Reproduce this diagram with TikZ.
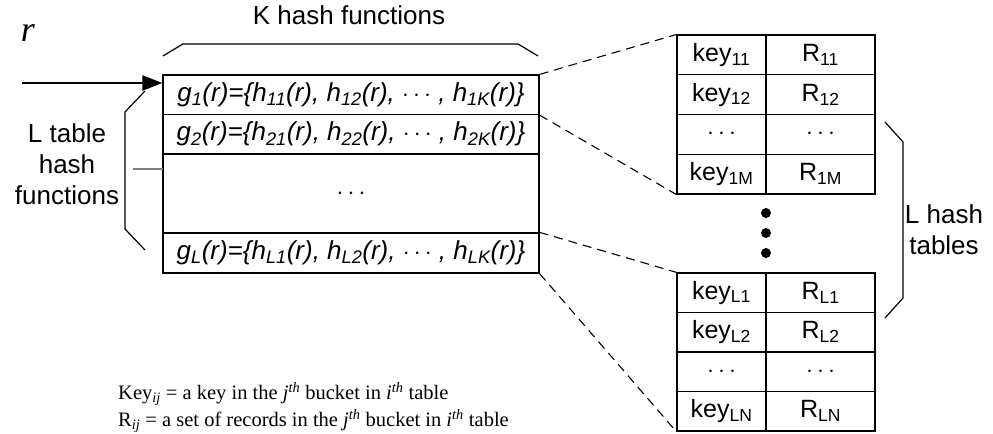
\documentclass[tikz,border=0pt]{standalone}
\usepackage{fontspec}
\setmainfont{Liberation Serif}
\setsansfont{Liberation Sans}
\usetikzlibrary{arrows.meta}
\tikzset{
  labeltext/.style={font=\sffamily\fontsize{26bp}{31bp}\selectfont},
  rowtext/.style={font=\sffamily\fontsize{26bp}{30bp}\selectfont},
  tabtext/.style={font=\sffamily\fontsize{25bp}{29bp}\selectfont},
  rowcell/.style={draw, line width=1.2bp, minimum width=376bp, inner sep=0pt, rowtext},
  tcell/.style={draw, line width=1.2bp, minimum height=39.6bp, inner sep=0pt, tabtext},
  keycell/.style={tcell, minimum width=89bp},
  rcell/.style={tcell, minimum width=109bp},
  bracket/.style={line width=1.2bp},
  dashline/.style={dashed, dash pattern=on 9bp off 6bp, line width=1.1bp},
  serifnote/.style={font=\rmfamily\fontsize{20.5bp}{27bp}\selectfont, anchor=west, inner sep=0pt},
}
\newcommand{\hs}[1]{\textsubscript{\itshape #1}}
\begin{document}
\begin{tikzpicture}[x=1bp,y=-1bp]
\useasboundingbox (0,0) rectangle (993,434);
% title and top bracket
\node[labeltext] (ktitle) at (349,15) {K hash functions};
\draw[bracket] (163,56) -- (183,44) -- (518,44) -- (538,56);
% main rows
\node[rowcell, minimum height=39.5bp] (g1) at (351,94.75)
  {\itshape g\hs{1}(r)=\{h\hs{11}(r), h\hs{12}(r), $\cdots$ , h\hs{1K}(r)\}};
\node[rowcell, minimum height=39.5bp] (g2) at (351,134.25)
  {\itshape g\hs{2}(r)=\{h\hs{21}(r), h\hs{22}(r), $\cdots$ , h\hs{2K}(r)\}};
\node[rowcell, minimum height=79bp] (gd) at (351,193.5) {$\cdots$};
\node[rowcell, minimum height=40bp] (gL) at (351,253)
  {\itshape g\hs{L}(r)=\{h\hs{L1}(r), h\hs{L2}(r), $\cdots$ , h\hs{LK}(r)\}};
% input arrow
\node[font=\rmfamily\itshape\fontsize{36bp}{36bp}\selectfont, inner sep=0pt] (rlab) at (28,33) {r};
\coordinate (rin) at (22,83);
\draw[line width=2.2bp, -{Triangle[length=20bp,width=15bp]}] (rin) -- (rin -| g1.west);
% left bracket
\draw[bracket] (145,91) -- (125,112) -- (125,229) -- (145,250);
\draw[gray, line width=1.2bp] (133,169) -- (163,169);
\node[labeltext, align=center] (llab) at (67,164) {L table\\hash\\functions};
% tables
\foreach \i/\k/\r in {1/key\textsubscript{11}/R\textsubscript{11},
                      2/key\textsubscript{12}/R\textsubscript{12},
                      3/$\cdots$/$\cdots$,
                      4/key\textsubscript{1M}/R\textsubscript{1M}}{
  \node[keycell] (ta\i) at (721.5,{35+39.75*(\i-1)+19.875}) {\k};
  \node[rcell] (ra\i) at (820.5,{35+39.75*(\i-1)+19.875}) {\r};
}
\foreach \i/\k/\r in {1/key\textsubscript{L1}/R\textsubscript{L1},
                      2/key\textsubscript{L2}/R\textsubscript{L2},
                      3/$\cdots$/$\cdots$,
                      4/key\textsubscript{LN}/R\textsubscript{LN}}{
  \node[keycell] (tb\i) at (721.5,{273+39.5*(\i-1)+19.75}) {\k};
  \node[rcell] (rb\i) at (820.5,{273+39.5*(\i-1)+19.75}) {\r};
}
% dots
\foreach \y/\n in {213/d1,233/d2,253/d3}
  \node[circle, fill=black, minimum size=10bp, inner sep=0pt] (\n) at (766,\y) {};
% dashed connectors
\draw[dashline] (g1.north east) -- (ta1.north west);
\draw[dashline] (g1.south east) -- (ta4.south west);
\draw[dashline] (gL.north east) -- (tb1.north west);
\draw[dashline] (gL.south east) -- (tb4.south west);
% right bracket
\draw[bracket] (885,122) -- (903,142) -- (903,298) -- (885,318);
\node[labeltext, align=center] (rlabel) at (944,230) {L hash\\tables};
% notes
\node[serifnote] (n1) at (118,394) {Key\textsubscript{\itshape ij} = a key in the \textit{j}\textsuperscript{\itshape th} bucket in \textit{i}\textsuperscript{\itshape th} table};
\node[serifnote] (n2) at (118,421) {R\textsubscript{\itshape ij} = a set of records in the \textit{j}\textsuperscript{\itshape th} bucket in \textit{i}\textsuperscript{\itshape th} table};
\end{tikzpicture}
\end{document}
